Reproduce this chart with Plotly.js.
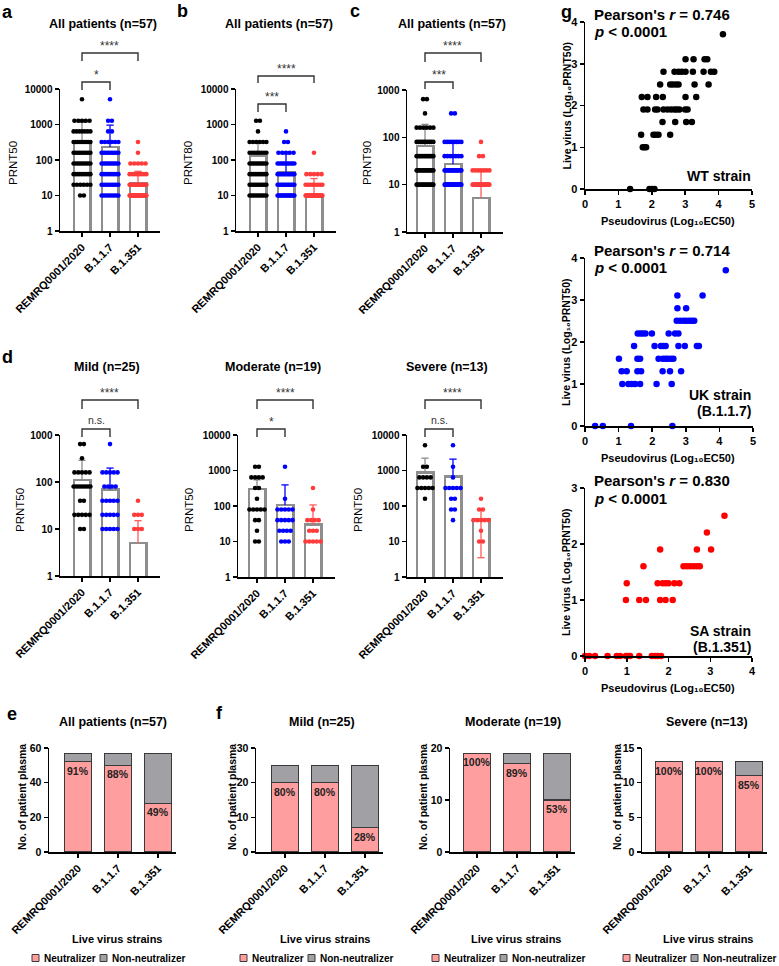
<!DOCTYPE html>
<html><head><meta charset="utf-8">
<script src="https://cdn.plot.ly/plotly-3.0.1.min.js"></script>
<style>body{margin:0;background:#fff}#chart{width:779px;height:966px}</style>
</head><body><div id="chart"></div>
<script>
// ================= DATA =================
const strains = ['REMRQ0001/2020', 'B.1.1.7', 'B.1.351'];
const titerLevels = [10, 20, 40, 80, 160, 320, 640, 1280, 2560, 5120];
// dot counts per titer level (10 ... 5120)
const a_WT = [2, 6, 9, 9, 9, 9, 7, 5, 0, 1];
const a_UK = [9, 9, 9, 10, 9, 6, 2, 2, 0, 1];
const a_SA = [28, 14, 8, 5, 1, 1, 0, 0, 0, 0];
const a_mean = [352, 234, 22];
const a_upper = [1150, 960, 48];
const a_sig = ['*', '****'];

const b_WT = [10, 10, 10, 10, 8, 6, 1, 2, 0, 0];
const b_UK = [15, 12, 12, 10, 5, 2, 1, 0, 0, 0];
const b_SA = [30, 8, 5, 0, 1, 0, 0, 0, 0, 0];
const b_mean = [130, 45, 9];
const b_upper = [330, 150, 30];
const b_sig = ['***', '****'];

const c_WT = [13, 13, 12, 10, 6, 1, 2, 0, 0, 0];
const c_UK = [25, 15, 7, 8, 0, 2, 0, 0, 0, 0];
const c_SA = [20, 7, 2, 1, 0, 0, 0, 0, 0, 0];
const c_mean = [66, 27, 5.3];
const c_upper = [188, 77, 19];
const c_sig = ['***', '****'];

const mild_WT = [2, 5, 2, 8, 5, 1, 2, 0, 0, 0];
const mild_UK = [5, 5, 5, 4, 5, 0, 1, 0, 0, 0];
const mild_SA = [3, 3, 1, 0, 0, 0, 0, 0, 0, 0];
const mild_mean = [112, 69, 5];
const mild_upper = [290, 198, 15];
const mild_sig = ['n.s.', '****'];

const mod_WT = [2, 1, 2, 5, 1, 2, 4, 2, 0, 0];
const mod_UK = [3, 4, 5, 5, 1, 0, 0, 1, 0, 0];
const mod_SA = [5, 3, 4, 1, 0, 1, 0, 0, 0, 0];
const mod_mean = [297, 107, 30];
const mod_upper = [545, 393, 107];
const mod_sig = ['*', '****'];

const sev_WT = [0, 0, 0, 0, 1, 5, 4, 2, 0, 1];
const sev_UK = [0, 0, 1, 2, 2, 5, 1, 1, 0, 1];
const sev_SA = [2, 1, 5, 2, 1, 0, 0, 0, 0, 0];
const sev_mean = [880, 675, 43];
const sev_upper = [2230, 2090, 83];
const sev_lower = [null, null, 3.5];
const sev_sig = ['n.s.', '****'];

// neutralizer / non-neutralizer counts
const e_neut = [52, 50, 28], e_non = [5, 7, 29];
const fMild_neut = [20, 20, 7], fMild_non = [5, 5, 18];
const fMod_neut = [19, 17, 10], fMod_non = [0, 2, 9];
const fSev_neut = [13, 13, 11], fSev_non = [0, 0, 2];

// correlation: live virus log10 PRNT50 levels, pseudovirus log10 EC50 per level
const liveLevels = [0, 1, 1.301, 1.602, 1.903, 2.204, 2.505, 2.806, 3.107, 3.709];
const wtPseudo = [
  [1.35, 1.93, 2.00, 2.08],
  [1.73, 1.78, 1.83],
  [1.68, 2.05, 2.12, 2.20, 2.55],
  [2.32, 2.70, 3.03, 3.20],
  [1.75, 1.87, 2.10, 2.17, 2.35, 2.47, 2.58, 2.68, 2.75, 2.83, 3.00, 3.07],
  [1.70, 1.87, 2.13, 2.33, 3.01, 3.33],
  [2.25, 2.55, 2.63, 2.72, 2.80, 3.28, 3.70],
  [2.35, 2.68, 2.80, 2.90, 3.01, 3.23, 3.55, 3.77, 3.87],
  [3.01, 3.25, 3.58, 3.66],
  [4.13]
];
const ukPseudo = [
  [0.30, 0.53, 1.37, 2.60],
  [1.11, 1.29, 1.39, 1.49, 1.64, 2.13, 2.58],
  [1.09, 1.24, 1.56, 1.67, 2.31, 2.53, 2.86],
  [1.01, 1.56, 1.64, 2.19, 2.32, 2.40, 2.47, 2.56, 2.63],
  [1.46, 2.07, 2.26, 2.33, 2.40, 2.78, 2.97, 3.33, 3.39],
  [1.57, 1.65, 1.72, 1.80, 1.99, 2.49, 2.68, 2.78],
  [2.73, 2.83, 2.93, 3.01, 3.10, 3.18, 3.25],
  [2.75, 3.01],
  [2.75, 3.50],
  [4.19]
];
const saPseudo = [
  [0.00, 0.10, 0.24, 0.54, 0.76, 0.84, 0.98, 1.03, 1.08, 1.30, 1.60, 1.68, 1.74, 1.82],
  [0.98, 1.30, 1.46, 1.80, 1.93, 2.10],
  [1.00, 1.74, 1.86, 1.93, 2.00, 2.14, 2.26],
  [1.40, 2.36, 2.44, 2.52, 2.60, 2.68, 2.75],
  [1.80, 2.68, 3.02],
  [2.92],
  [3.34],
  [], [], []
];
const pearsonR = ['0.746', '0.714', '0.830'];

// ================= DRAWING =================
const W = 779, H = 966;
const FONT = 'Arial, "Liberation Sans", sans-serif';
const P = px => px / W, Q = py => 1 - py / H;
const groupColors = ['#000000', '#0000ff', '#ff3b3b'];
const errColors = ['#8c8c8c', '#0000ff', '#ff5a5a'];
const PINK = '#ff9e9e', GRAY = '#a0a0a5';

const layout = {
  width: W, height: H, margin: {l: 0, r: 0, t: 0, b: 0},
  paper_bgcolor: '#ffffff', plot_bgcolor: 'rgba(0,0,0,0)',
  showlegend: false, barmode: 'stack', hovermode: false,
  font: {family: FONT, color: '#000'},
  annotations: [], shapes: []
};
const traces = [];
const BASE = {showline: true, linecolor: '#000', linewidth: 1.5, ticks: 'outside', ticklen: 4,
  tickwidth: 1.5, tickcolor: '#000', showgrid: false, zeroline: false, fixedrange: true};
const tf = (size, weight) => ({family: FONT, size: size, color: '#000', weight: weight || 'bold'});

let nAx = 0;
function axes(xa, ya) {
  nAx++;
  const s = nAx === 1 ? '' : String(nAx);
  layout['xaxis' + s] = Object.assign({}, BASE, xa, {anchor: 'y' + s});
  layout['yaxis' + s] = Object.assign({}, BASE, ya, {anchor: 'x' + s});
  return {x: 'x' + s, y: 'y' + s};
}
function ann(text, x, y, o) {
  o = o || {};
  const font = Object.assign({family: FONT, size: 12, color: '#000', weight: 'bold'}, o.font || {});
  const a = Object.assign({text: text, x: P(x), y: Q(y), xref: 'paper', yref: 'paper', showarrow: false,
    xanchor: 'center', yanchor: 'middle'}, o);
  a.font = font;
  layout.annotations.push(a);
}

// ---------- dot plots (a-d) ----------
const SP = 28;
function dotsFor(counts, i) {
  const xs = [], ys = [];
  counts.forEach((k, li) => {
    if (!k) return;
    const dx = k > 1 ? Math.min(0.135, 0.6 / (k - 1)) : 0;
    for (let j = 0; j < k; j++) { xs.push(i + (j - (k - 1) / 2) * dx); ys.push(titerLevels[li]); }
  });
  return {xs, ys};
}
function dotPanel(p) {
  const right = p.c0 + 2 * SP + 22;
  const tv = []; for (let d = 0; d <= p.dec; d++) tv.push(Math.pow(10, d));
  const ids = axes(
    {domain: [P(p.ax), P(right)], range: [(p.ax - p.c0) / SP, (right - p.c0) / SP], tickvals: [0, 1, 2],
     ticktext: strains, tickangle: -45, tickfont: tf(11)},
    {domain: [Q(p.yBot), Q(p.yTop)], type: 'log', range: [0, p.dec], tickvals: tv, ticktext: tv.map(String),
     tickfont: tf(10)});
  traces.push({type: 'bar', x: [0, 1, 2], y: p.mean, width: 0.6, xaxis: ids.x, yaxis: ids.y,
    marker: {color: 'rgba(255,255,255,0)', line: {color: '#8e8e8e', width: 2.2}}, hoverinfo: 'skip'});
  p.mean.forEach((m, i) => {
    const hw = 0.13;
    const segs = [p.upper[i]];
    if (p.lower && p.lower[i] != null) segs.push(p.lower[i]);
    segs.forEach(v => traces.push({type: 'scatter', mode: 'lines', x: [i, i, null, i - hw, i + hw],
      y: [m, v, null, v, v], xaxis: ids.x, yaxis: ids.y, line: {color: errColors[i], width: 1.3},
      cliponaxis: false, hoverinfo: 'skip'}));
  });
  p.counts.forEach((cnt, i) => {
    const d = dotsFor(cnt, i);
    traces.push({type: 'scatter', mode: 'markers', x: d.xs, y: d.ys, xaxis: ids.x, yaxis: ids.y,
      marker: {color: groupColors[i], size: 4.6}, cliponaxis: false, hoverinfo: 'skip'});
  });
  [[1, p.sig[0], p.inner], [2, p.sig[1], p.outer]].forEach(([j, txt, b]) => {
    layout.shapes.push({type: 'path', xref: ids.x, yref: 'paper',
      path: `M0,${Q(b.leg)} L0,${Q(b.top)} L${j},${Q(b.top)} L${j},${Q(b.leg)}`,
      line: {color: '#333', width: 1.4}});
    const star = txt.indexOf('*') >= 0;
    ann(txt, p.c0 + j * SP / 2, star ? b.top - 7 : b.top - 9,
      {font: {size: star ? 12 : 10.5, color: '#333', weight: 'normal'}});
  });
  ann(p.title, p.tx, p.ty, {font: {size: 12.5}});
  ann(p.ylab, p.ylx, p.yly, {textangle: -90, font: {size: 11.5, weight: 'normal'}});
}
const topIn = {top: 82, leg: 90}, topOut = {top: 53, leg: 61};
const dIn = {top: 429, leg: 437}, dOut = {top: 400, leg: 409};
dotPanel({counts: [a_WT, a_UK, a_SA], mean: a_mean, upper: a_upper, sig: a_sig, ax: 60, c0: 82, yTop: 89, yBot: 231,
  dec: 4, title: 'All patients (n=57)', tx: 103, ty: 24, ylab: 'PRNT50', ylx: 13, yly: 163, inner: topIn, outer: topOut});
dotPanel({counts: [b_WT, b_UK, b_SA], mean: b_mean, upper: b_upper, sig: b_sig, ax: 236, c0: 258, yTop: 89, yBot: 231,
  dec: 4, title: 'All patients (n=57)', tx: 279, ty: 24, ylab: 'PRNT80', ylx: 188, yly: 163,
  inner: {top: 104, leg: 112}, outer: {top: 76, leg: 83}});
dotPanel({counts: [c_WT, c_UK, c_SA], mean: c_mean, upper: c_upper, sig: c_sig, ax: 407, c0: 425, yTop: 90, yBot: 232,
  dec: 3, title: 'All patients (n=57)', tx: 452, ty: 24, ylab: 'PRNT90', ylx: 367, yly: 163,
  inner: {top: 82, leg: 89}, outer: {top: 53, leg: 62}});
dotPanel({counts: [mild_WT, mild_UK, mild_SA], mean: mild_mean, upper: mild_upper, sig: mild_sig, ax: 60, c0: 82,
  yTop: 435, yBot: 576, dec: 3, title: 'Mild (n=25)', tx: 107, ty: 367, ylab: 'PRNT50', ylx: 20, yly: 510,
  inner: dIn, outer: dOut});
dotPanel({counts: [mod_WT, mod_UK, mod_SA], mean: mod_mean, upper: mod_upper, sig: mod_sig, ax: 238, c0: 257,
  yTop: 435, yBot: 577, dec: 4, title: 'Moderate (n=19)', tx: 273, ty: 367, ylab: 'PRNT50', ylx: 189, yly: 510,
  inner: dIn, outer: dOut});
dotPanel({counts: [sev_WT, sev_UK, sev_SA], mean: sev_mean, upper: sev_upper, lower: sev_lower, sig: sev_sig,
  ax: 407, c0: 425, yTop: 435, yBot: 577, dec: 4, title: 'Severe (n=13)', tx: 447, ty: 367, ylab: 'PRNT50',
  ylx: 358, yly: 510, inner: dIn, outer: dOut});

// ---------- stacked bars (e-f) ----------
const SP2 = 40, ST_TOP = 748, ST_BOT = 852;
function stackPanel(p) {
  const right = p.c0 + 2 * SP2 + 18;
  const ids = axes(
    {domain: [P(p.ax), P(right)], range: [(p.ax - p.c0) / SP2, (right - p.c0) / SP2], tickvals: [0, 1, 2],
     ticktext: strains, tickangle: -45, tickfont: tf(11)},
    {domain: [Q(ST_BOT), Q(ST_TOP)], range: [0, p.ymax], dtick: p.dtick, tick0: 0, tickfont: tf(10.5)});
  traces.push({type: 'bar', x: [0, 1, 2], y: p.neut, width: 0.66, xaxis: ids.x, yaxis: ids.y,
    marker: {color: PINK, line: {color: '#3a3a3a', width: 1.2}}, hoverinfo: 'skip'});
  traces.push({type: 'bar', x: [0, 1, 2], y: p.non, width: 0.66, xaxis: ids.x, yaxis: ids.y,
    marker: {color: GRAY, line: {color: '#3a3a3a', width: 1.2}}, hoverinfo: 'skip'});
  p.neut.forEach((n, i) => {
    const tot = n + p.non[i];
    const py = ST_BOT - (n / p.ymax) * (ST_BOT - ST_TOP);
    ann(Math.round(100 * n / tot) + '%', p.c0 + i * SP2, py + 1, {yanchor: 'top',
      font: {size: 10.5, color: '#222'}});
  });
  ann(p.title, p.tx, 722, {font: {size: 12.5}});
  ann('No. of patient plasma', p.ylx, 797, {textangle: -90, font: {size: 10.5}});
  ann('Live virus strains', p.lx, 939, {font: {size: 11}});
  // legend
  const L = p.legX, yc = 958;
  layout.shapes.push({type: 'rect', xref: 'paper', yref: 'paper', x0: P(L), x1: P(L + 7), y0: Q(yc + 3.5), y1: Q(yc - 3.5),
    fillcolor: PINK, line: {color: '#3a3a3a', width: 1}});
  ann('Neutralizer', L + 10, yc, {xanchor: 'left', font: {size: 10}});
  layout.shapes.push({type: 'rect', xref: 'paper', yref: 'paper', x0: P(L + 68), x1: P(L + 75), y0: Q(yc + 3.5), y1: Q(yc - 3.5),
    fillcolor: GRAY, line: {color: '#3a3a3a', width: 1}});
  ann('Non-neutralizer', L + 78, yc, {xanchor: 'left', font: {size: 10}});
}
stackPanel({neut: e_neut, non: e_non, ax: 49, c0: 78, ymax: 60, dtick: 20, title: 'All patients (n=57)', tx: 113, ylx: 22, lx: 117, legX: 32});
stackPanel({neut: fMild_neut, non: fMild_non, ax: 256, c0: 285, ymax: 30, dtick: 10, title: 'Mild (n=25)', tx: 322, ylx: 232, lx: 325, legX: 240});
stackPanel({neut: fMod_neut, non: fMod_non, ax: 450, c0: 477, ymax: 20, dtick: 10, title: 'Moderate (n=19)', tx: 513, ylx: 423, lx: 516, legX: 432});
stackPanel({neut: fSev_neut, non: fSev_non, ax: 642, c0: 669, ymax: 15, dtick: 5, title: 'Severe (n=13)', tx: 707, ylx: 617, lx: 708, legX: 623});

// ---------- scatter (g) ----------
function scatPanel(p) {
  const ids = axes(
    {domain: [P(585), P(p.xr)], range: [0, p.xmax], dtick: 1, tick0: 0, tickfont: tf(11)},
    {domain: [Q(p.yb), Q(p.yt)], range: [0, p.ymax], dtick: 1, tick0: 0, tickfont: tf(11)});
  const xs = [], ys = [];
  p.pseudo.forEach((row, li) => row.forEach(v => { xs.push(v); ys.push(liveLevels[li]); }));
  traces.push({type: 'scatter', mode: 'markers', x: xs, y: ys, xaxis: ids.x, yaxis: ids.y,
    marker: {color: p.color, size: 6.5}, cliponaxis: false, hoverinfo: 'skip'});
  ann("Pearson's <i>r</i> = " + p.r, 592, p.yt - 7, {xanchor: 'left', font: {size: 15}});
  ann('<i>p</i> &lt; 0.0001', 592, p.yt + 10, {xanchor: 'left', font: {size: 15}});
  p.labels.forEach((t, k) => ann(t, 753, p.labY + k * 16, {xanchor: 'right', font: {size: 14}}));
  ann('Live virus (Log\u2081\u2080PRNT50)', 566, (p.yt + p.yb) / 2, {textangle: -90, font: {size: 10.5}});
  ann('Pseudovirus (Log\u2081\u2080EC50)', 668, p.yb + 32, {font: {size: 11}});
}
scatPanel({pseudo: wtPseudo, color: '#000000', r: pearsonR[0], xr: 752, yt: 22, yb: 189, xmax: 5, ymax: 4, labels: ['WT strain'], labY: 176});
scatPanel({pseudo: ukPseudo, color: '#0000ff', r: pearsonR[1], xr: 753, yt: 258, yb: 426, xmax: 5, ymax: 4, labels: ['UK strain', '(B.1.1.7)'], labY: 395});
scatPanel({pseudo: saPseudo, color: '#ff0000', r: pearsonR[2], xr: 752, yt: 488, yb: 656, xmax: 4, ymax: 3, labels: ['SA strain', '(B.1.351)'], labY: 631});

// panel letters
[['a', 8, 12], ['b', 182, 11], ['c', 355, 11], ['d', 8, 357], ['e', 12, 714], ['f', 220, 713], ['g', 566, 12]]
  .forEach(([t, x, y]) => ann(t, x, y, {font: {size: 18}}));

Plotly.newPlot('chart', traces, layout, {displayModeBar: false, staticPlot: true});
</script>
</body></html>
